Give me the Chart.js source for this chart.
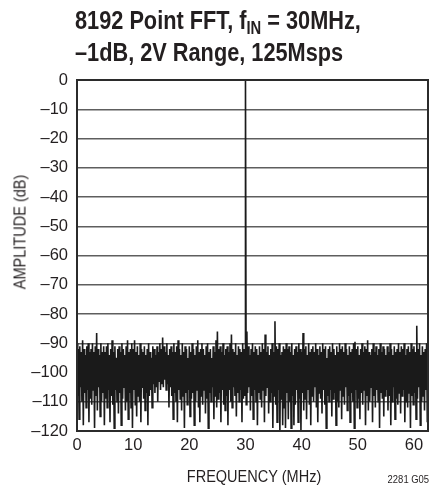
<!DOCTYPE html>
<html>
<head>
<meta charset="utf-8">
<script src="https://cdn.jsdelivr.net/npm/chart.js@4.4.1/dist/chart.umd.min.js"></script>
<style>
  html, body { margin:0; padding:0; background:#fff; }
  #wrap { position:relative; width:430px; height:489px; overflow:hidden; background:#fff; }
  #c { position:absolute; left:0; top:0; }
  #title { position:absolute; left:75px; top:4px; font-family:"Liberation Sans",Arial,sans-serif; font-weight:bold; font-size:26.5px; line-height:32px; color:#231f20; white-space:nowrap; transform:scaleX(0.82); transform-origin:0 0; }
  #title .sub { font-size:18px; position:relative; top:5px; line-height:0; }
  .axt { position:absolute; font-family:"Liberation Sans",Arial,sans-serif; font-size:16.5px; color:#231f20; white-space:nowrap; }
  #ytitle { left:20px; top:232px; transform:translate(-50%,-50%) rotate(-90deg) scaleX(0.88); }
  #xtitle { left:254px; top:476px; transform:translate(-50%,-50%) scaleX(0.88); }
  #note { position:absolute; right:1px; top:473px; font-family:"Liberation Sans",Arial,sans-serif; font-size:10.5px; color:#231f20; transform:scaleX(0.9); transform-origin:100% 0; }
</style>
</head>
<body>
<div id="wrap">
  <canvas id="c" width="430" height="489"></canvas>
  <div id="title">8192 Point FFT, f<span class="sub">IN</span> = 30MHz,<br>–1dB, 2V Range, 125Msps</div>
  <div class="axt" id="ytitle">AMPLITUDE (dB)</div>
  <div class="axt" id="xtitle">FREQUENCY (MHz)</div>
  <div id="note">2281 G05</div>
</div>
<script>
// ---- data ----
const xTickValues = [0, 10, 20, 30, 40, 50, 60];
const yTickValues = [0, -10, -20, -30, -40, -50, -60, -70, -80, -90, -100, -110, -120];
const freqMin = 0, freqMax = 62.5;          // MHz (fs/2)
const pairWidthMHz = 0.25;                  // each (upper, lower) pair spans 0.25 MHz
// fundamental tone
const fundamentalMHz = 30;
const fundamentalDb = 0;
// upper envelope of the noise floor (dB), 0 → 62.5 MHz
const upperDb = [
  -90,-92,-91,-93,-89,-92,-94,-91,-90,-93,
  -92,-90,-93,-91,-86.5,-92,-94,-90,-93,-91,
  -93,-91,-90,-94,-92,-89,-93,-91,-95,-92,
  -91,-93,-90,-92,-94,-91,-89,-93,-92,-90,
  -92,-89,-93,-91,-94,-90,-92,-93,-91,-94,
  -92,-90,-93,-95,-91,-92,-94,-91,-93,-90,
  -92,-88,-91,-93,-90,-94,-92,-91,-93,-90,
  -93,-91,-89,-92,-94,-90,-93,-91,-92,-95,
  -91,-93,-90,-92,-94,-91,-89,-93,-92,-90,
  -92,-94,-91,-90,-93,-92,-95,-91,-93,-89,
  -86,-92,-91,-93,-90,-94,-92,-91,-93,-90,
  -87,-92,-93,-90,-94,-91,-92,-93,-90,-92,
  -93,-86,-91,-94,-92,-90,-93,-91,-92,-94,
  -91,-93,-90,-92,-87,-93,-91,-94,-92,-90,
  -93,-82.5,-91,-92,-90,-94,-93,-91,-92,-90,
  -92,-91,-93,-90,-94,-92,-91,-93,-90,-92,
  -93,-86.5,-92,-91,-94,-90,-93,-92,-91,-93,
  -90,-92,-94,-91,-93,-90,-92,-91,-95,-92,
  -91,-93,-90,-92,-94,-91,-93,-90,-92,-91,
  -93,-90,-92,-94,-91,-93,-92,-90,-89.5,-92,
  -91,-94,-92,-90,-93,-91,-92,-89,-93,-94,
  -92,-90,-93,-91,-94,-92,-90,-93,-91,-92,
  -94,-91,-93,-90,-92,-94,-91,-93,-92,-90,
  -93,-91,-92,-90,-94,-92,-91,-93,-90,-92,
  -91,-93,-84,-92,-90,-94,-91,-93,-92,-90
];
// lower envelope of the noise floor (dB), 0 → 62.5 MHz
const lowerDb = [
  -108,-116,-105,-110,-118,-107,-112,-106,-117,-109,
  -111,-106,-119,-108,-113,-105,-115,-110,-107,-118,
  -109,-112,-106,-117,-108,-111,-119,-106,-110,-114,
  -107,-118,-109,-105,-113,-110,-116,-107,-112,-119,
  -106,-111,-115,-108,-110,-117,-105,-109,-113,-107,
  -118,-108,-106,-112,-104,-107,-105,-110,-103,-106,
  -104,-105,-102.5,-106,-104,-112,-105,-108,-116,-107,
  -110,-117,-106,-109,-113,-108,-119,-107,-111,-106,
  -115,-109,-107,-118,-110,-106,-112,-117,-108,-111,
  -106,-114,-109,-119,-107,-110,-105,-116,-108,-112,
  -109,-107,-117,-106,-111,-113,-108,-118,-106,-110,
  -112,-105,-108,-115,-107,-110,-106,-117,-109,-108,
  -111,-107,-105,-113,-108,-116,-106,-110,-118,-107,
  -109,-112,-106,-117,-108,-105,-114,-110,-107,-119,
  -108,-111,-117,-106,-120,-109,-118,-112,-119,-107,
  -116,-110,-119,-108,-118,-111,-106,-117,-109,-120,
  -107,-113,-109,-116,-106,-111,-118,-108,-110,-105,
  -112,-117,-107,-109,-114,-106,-111,-119,-108,-110,
  -106,-115,-109,-107,-118,-110,-112,-106,-116,-108,
  -111,-105,-113,-108,-117,-107,-110,-119,-106,-112,
  -109,-116,-107,-111,-106,-118,-108,-113,-110,-105,
  -117,-108,-112,-106,-110,-119,-107,-109,-115,-108,
  -106,-113,-108,-118,-110,-105,-116,-109,-111,-107,
  -114,-108,-106,-117,-110,-112,-107,-119,-108,-111,
  -107,-116,-109,-105,-118,-110,-108,-113,-106,-117
];

// build the spectrum trace from the arrays
const points = [];
for (let i = 0; i < upperDb.length; i++) {
  const f = i * pairWidthMHz;
  points.push({ x: f, y: upperDb[i] });
  if (f === fundamentalMHz) points.push({ x: fundamentalMHz, y: fundamentalDb });
  points.push({ x: f + pairWidthMHz / 2, y: lowerDb[i] });
}

const frame = {
  id: 'frame',
  afterDatasetsDraw(chart) {
    const a = chart.chartArea, ctx = chart.ctx;
    ctx.save();
    ctx.strokeStyle = '#2b2b2b';
    ctx.lineWidth = 2;
    ctx.strokeRect(a.left, a.top, a.right - a.left, a.bottom - a.top);
    ctx.restore();
  }
};

new Chart(document.getElementById('c'), {
  type: 'line',
  data: {
    datasets: [{
      data: points,
      borderColor: '#1a1a1a',
      borderWidth: 1.6,
      borderJoinStyle: 'miter',
      pointRadius: 0,
      tension: 0,
      fill: false
    }]
  },
  options: {
    responsive: false,
    animation: false,
    devicePixelRatio: 1,
    layout: { padding: { top: 80, right: 2, bottom: 0, left: 0 } },
    plugins: { legend: { display: false }, title: { display: false }, tooltip: { enabled: false } },
    scales: {
      x: {
        type: 'linear',
        min: freqMin, max: freqMax,
        afterFit(s) { s.height = 58; },
        afterBuildTicks(s) { s.ticks = xTickValues.map(v => ({ value: v })); },
        grid: { display: false, drawTicks: false },
        border: { display: false },
        ticks: { font: { family: 'Liberation Sans', size: 16.5 }, color: '#231f20', padding: 5, maxRotation: 0, autoSkip: false }
      },
      y: {
        min: -120, max: 0,
        afterFit(s) { s.width = 77; },
        afterBuildTicks(s) { s.ticks = yTickValues.map(v => ({ value: v })); },
        grid: { color: '#5e5e5e', lineWidth: 1.5, drawTicks: false },
        border: { display: false },
        ticks: {
          font: { family: 'Liberation Sans', size: 16.5 }, color: '#231f20', padding: 9, autoSkip: false,
          callback: v => v < 0 ? '–' + Math.abs(v) : String(v)
        }
      }
    }
  },
  plugins: [frame]
});
</script>
</body>
</html>
